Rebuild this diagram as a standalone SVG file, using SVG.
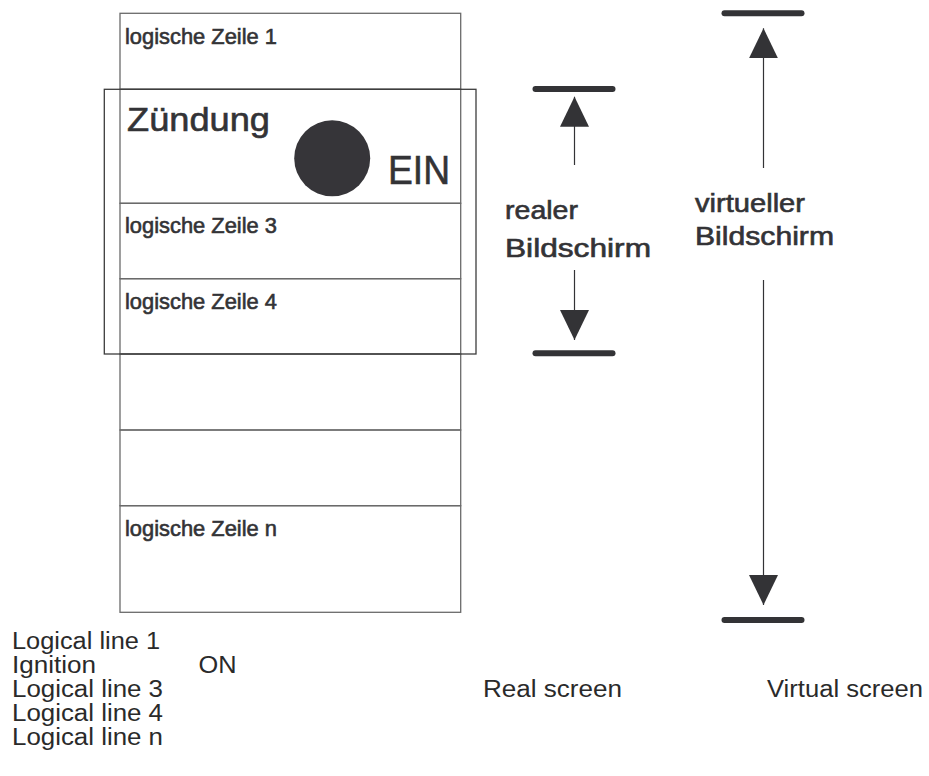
<svg xmlns="http://www.w3.org/2000/svg" width="929" height="776" viewBox="0 0 929 776">
<style>
  .row { fill: none; stroke: #6a6a6a; stroke-width: 1.3; }
  .frame { fill: none; stroke: #3c3c3c; stroke-width: 1.3; }
  .lbl { font-family: "Liberation Sans", Arial, sans-serif; fill: #333336; stroke: #333336; stroke-width: 0.6; }
  .en { font-family: "Liberation Sans", Arial, sans-serif; fill: #2a2a2a; font-size: 23px; }
  .bar { stroke: #333336; stroke-width: 6; stroke-linecap: round; }
  .arr { stroke: #333336; stroke-width: 1.2; fill: none; marker-end: url(#tri); }
</style>
<defs>
  <marker id="tri" markerUnits="userSpaceOnUse" markerWidth="30" markerHeight="30" refX="30" refY="14.5" orient="auto">
    <path d="M0,0 L30,14.5 L0,29 Z" fill="#333336"/>
  </marker>
</defs>
<rect width="929" height="776" fill="#ffffff"/>

<g id="row1">
  <rect class="row" x="120" y="13.3" width="340.7" height="76"/>
  <text class="lbl" x="125" y="44" font-size="22" textLength="152" lengthAdjust="spacingAndGlyphs">logische Zeile 1</text>
</g>
<g id="row2">
  <rect class="row" x="120" y="89.3" width="340.7" height="114"/>
  <text class="lbl" x="127" y="131" font-size="33" textLength="143" lengthAdjust="spacingAndGlyphs">Zündung</text>
  <circle cx="332.2" cy="158.3" r="38" fill="#363539"/>
  <text class="lbl" x="388" y="183.5" font-size="41" textLength="62" lengthAdjust="spacingAndGlyphs">EIN</text>
</g>
<g id="row3">
  <rect class="row" x="120" y="203.3" width="340.7" height="75.4"/>
  <text class="lbl" x="125" y="233.3" font-size="22" textLength="152" lengthAdjust="spacingAndGlyphs">logische Zeile 3</text>
</g>
<g id="row4">
  <rect class="row" x="120" y="278.7" width="340.7" height="75.3"/>
  <text class="lbl" x="125" y="309" font-size="22" textLength="152" lengthAdjust="spacingAndGlyphs">logische Zeile 4</text>
</g>
<g id="row5">
  <rect class="row" x="120" y="354" width="340.7" height="76"/>
</g>
<g id="row6">
  <rect class="row" x="120" y="430" width="340.7" height="75.7"/>
</g>
<g id="rown">
  <rect class="row" x="120" y="505.7" width="340.7" height="106.6"/>
  <text class="lbl" x="125" y="535.7" font-size="22" textLength="152" lengthAdjust="spacingAndGlyphs">logische Zeile n</text>
</g>
<g id="real-screen-frame">
  <rect class="frame" x="104.3" y="89.3" width="371.7" height="264.7"/>
</g>

<g id="real-screen">
  <line class="bar" x1="535.5" y1="89" x2="612.5" y2="89"/>
  <line class="bar" x1="535.5" y1="353.3" x2="612.5" y2="353.3"/>
  <text class="lbl" x="505" y="219" font-size="25" textLength="73" lengthAdjust="spacingAndGlyphs">realer</text>
  <text class="lbl" x="505" y="256.7" font-size="25" textLength="146" lengthAdjust="spacingAndGlyphs">Bildschirm</text>
</g>
<g id="virtual-screen">
  <line class="bar" x1="724.5" y1="13.3" x2="801.5" y2="13.3"/>
  <line class="bar" x1="724.5" y1="620" x2="801.5" y2="620"/>
  <text class="lbl" x="695" y="212.3" font-size="25" textLength="110" lengthAdjust="spacingAndGlyphs">virtueller</text>
  <text class="lbl" x="695" y="245" font-size="25" textLength="139" lengthAdjust="spacingAndGlyphs">Bildschirm</text>
</g>

<g id="connectors">
  <line class="arr" x1="574.5" y1="165" x2="574.5" y2="96.7"/>
  <line class="arr" x1="574.5" y1="270" x2="574.5" y2="340"/>
  <line class="arr" x1="763.5" y1="168" x2="763.5" y2="28.3"/>
  <line class="arr" x1="763.5" y1="280" x2="763.5" y2="605"/>
</g>

<g id="legend">
  <text class="en" x="12" y="649" textLength="148" lengthAdjust="spacingAndGlyphs">Logical line 1</text>
  <text class="en" x="12" y="673" textLength="84" lengthAdjust="spacingAndGlyphs">Ignition</text>
  <text class="en" x="198.5" y="673" textLength="38" lengthAdjust="spacingAndGlyphs">ON</text>
  <text class="en" x="12" y="697" textLength="151" lengthAdjust="spacingAndGlyphs">Logical line 3</text>
  <text class="en" x="12" y="721" textLength="151" lengthAdjust="spacingAndGlyphs">Logical line 4</text>
  <text class="en" x="12" y="745" textLength="151" lengthAdjust="spacingAndGlyphs">Logical line n</text>
  <text class="en" x="483" y="697" textLength="139" lengthAdjust="spacingAndGlyphs">Real screen</text>
  <text class="en" x="767" y="697" textLength="156" lengthAdjust="spacingAndGlyphs">Virtual screen</text>
</g>
</svg>
